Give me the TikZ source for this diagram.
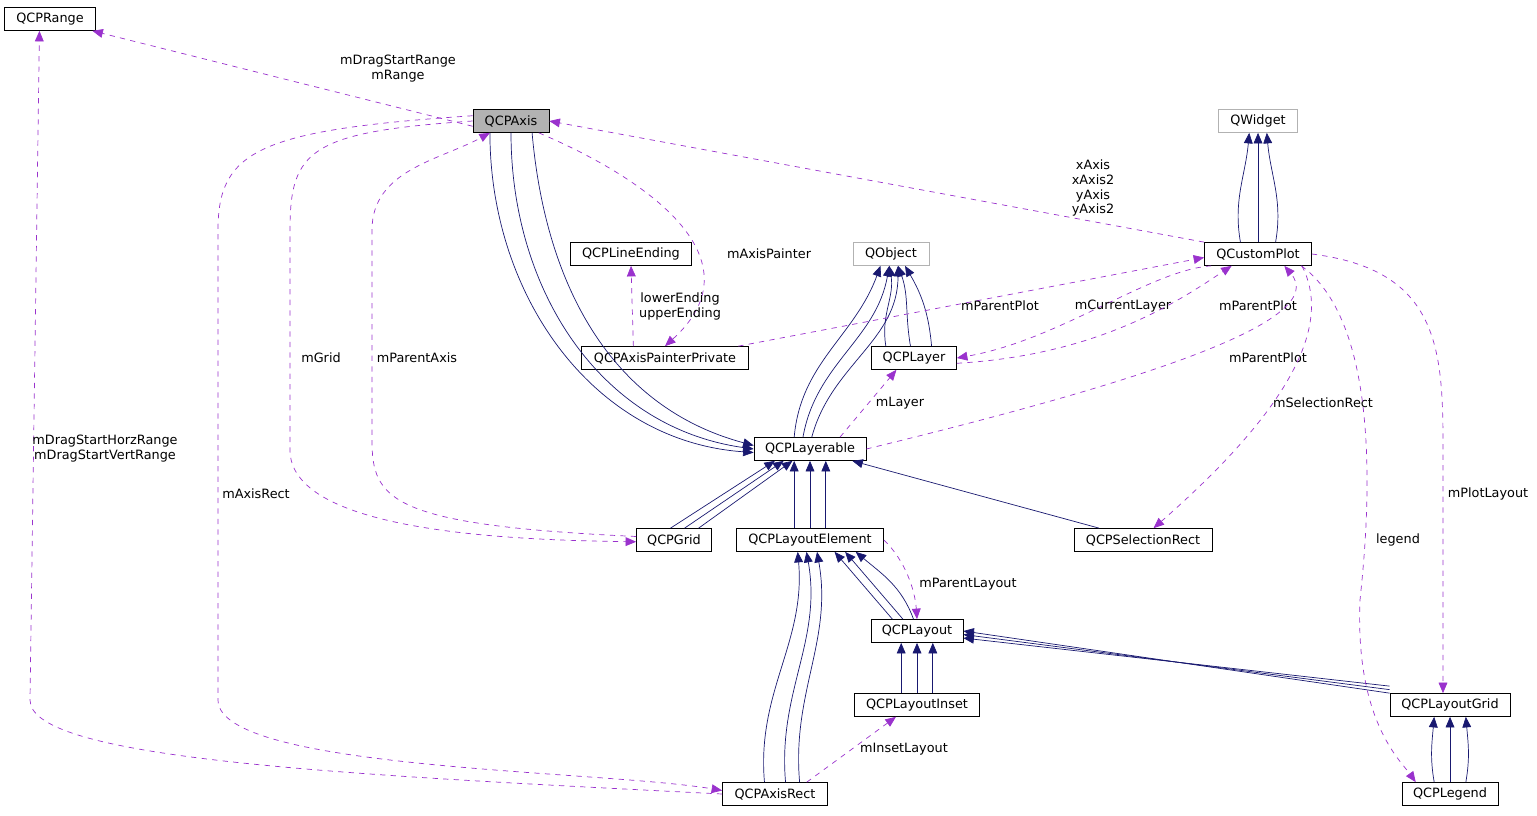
\documentclass[tikz,border=0pt]{standalone}
\usepackage{fontspec}
\setmainfont{DejaVu Sans}
\usepackage{tikz}
\usetikzlibrary{arrows.meta,positioning}
\definecolor{navy}{HTML}{191970}
\definecolor{usecol}{HTML}{9A32CD}

\begin{document}
\begin{tikzpicture}[x=0.02cm,y=-0.02cm,
	cls/.style={draw, fill=white, font=\fontsize{7.3}{8.5}\selectfont, inner xsep=4pt, inner ysep=0pt, minimum height=0.46cm},
	ext/.style={cls, draw=gray!60},
	inh/.style={draw=navy, -{Triangle[length=6pt,width=5pt]}},
	use/.style={draw=usecol, dashed, -{Triangle[length=6pt,width=5pt]}},
	lbl/.style={font=\fontsize{7.3}{8.5}\selectfont, align=center}]
	\useasboundingbox (0,0) rectangle (1537,815);

	\path (50,19) node[cls, minimum width=1.82cm] (rng) {QCPRange};
	\path (511,121) node[cls, minimum width=1.52cm, fill=gray!60] (ax) {QCPAxis};
	\path (1258,121) node[ext, minimum width=1.58cm] (qw) {QWidget};
	\path (631,254) node[cls, minimum width=2.42cm] (le) {QCPLineEnding};
	\path (891,254) node[ext, minimum width=1.52cm] (qo) {QObject};
	\path (1258,254) node[cls, minimum width=2.14cm] (cp) {QCustomPlot};
	\path (665,358) node[cls, minimum width=3.34cm] (app) {QCPAxisPainterPrivate};
	\path (914,358) node[cls, minimum width=1.7cm] (lyr) {QCPLayer};
	\path (810,449) node[cls, minimum width=2.24cm] (lay) {QCPLayerable};
	\path (674,540) node[cls, minimum width=1.5cm] (grid) {QCPGrid};
	\path (810,540) node[cls, minimum width=2.94cm] (lel) {QCPLayoutElement};
	\path (1143,540) node[cls, minimum width=2.76cm] (sr) {QCPSelectionRect};
	\path (917,631) node[cls, minimum width=1.84cm] (lo) {QCPLayout};
	\path (917,705) node[cls, minimum width=2.5cm] (li) {QCPLayoutInset};
	\path (1450,705) node[cls, minimum width=2.4cm] (lg) {QCPLayoutGrid};
	\path (775,794) node[cls, minimum width=2.1cm] (ar) {QCPAxisRect};
	\path (1450,794) node[cls, minimum width=1.92cm] (leg) {QCPLegend};

	% inheritance
	\draw[inh] ([xshift=-12pt]ax.south) to[out=-90,in=176] ([yshift=-2pt]lay.west);
	\draw[inh] (ax.south) to[out=-90,in=172] (lay.west);
	\draw[inh] ([xshift=12pt]ax.south) to[out=-85,in=165] ([yshift=2pt]lay.west);
	\draw[inh] ([xshift=-9pt]lay.north) to[out=85,in=-110] ([xshift=-6pt]qo.south);
	\draw[inh] ([xshift=-4pt]lay.north) to[out=80,in=-100] ([xshift=-1pt]qo.south);
	\draw[inh] ([xshift=1pt]lay.north) to[out=75,in=-90] ([xshift=4pt]qo.south);
	\draw[inh] ([xshift=-16pt]lyr.north) to[out=100,in=-80] ([xshift=-1pt]qo.south);
	\draw[inh] ([xshift=-2pt]lyr.north) to[out=100,in=-70] ([xshift=4pt]qo.south);
	\draw[inh] ([xshift=10pt]lyr.north) to[out=95,in=-60] ([xshift=8pt]qo.south);
	\draw[inh] ([xshift=-10pt]cp.north) to[out=100,in=-95] ([xshift=-5pt]qw.south);
	\draw[inh] (cp.north) -- (qw.south);
	\draw[inh] ([xshift=10pt]cp.north) to[out=80,in=-85] ([xshift=5pt]qw.south);
	\draw[inh] ([xshift=-2pt]grid.north) -- ([xshift=-20pt]lay.south);
	\draw[inh] ([xshift=6pt]grid.north) -- ([xshift=-15pt]lay.south);
	\draw[inh] ([xshift=14pt]grid.north) -- ([xshift=-10pt]lay.south);
	\draw[inh] ([xshift=-9pt]lel.north) -- ([xshift=-9pt]lay.south);
	\draw[inh] (lel.north) -- (lay.south);
	\draw[inh] ([xshift=9pt]lel.north) -- ([xshift=9pt]lay.south);
	\draw[inh] ([xshift=-25pt]sr.north) -- ([xshift=-8pt]lay.south east);
	\draw[inh] ([xshift=-14pt]lo.north) -- ([xshift=14pt]lel.south);
	\draw[inh] ([xshift=-8pt]lo.north) -- ([xshift=20pt]lel.south);
	\draw[inh] ([xshift=-2pt]lo.north) to[out=110,in=-40] ([xshift=26pt]lel.south);
	\draw[inh] ([xshift=-6pt]ar.north) to[out=95,in=-85] ([xshift=-7pt]lel.south);
	\draw[inh] ([xshift=6pt]ar.north) to[out=95,in=-80] ([xshift=-2pt]lel.south);
	\draw[inh] ([xshift=14pt]ar.north) to[out=95,in=-80] ([xshift=4pt]lel.south);
	\draw[inh] ([xshift=-9pt]li.north) -- ([xshift=-9pt]lo.south);
	\draw[inh] (li.north) -- (lo.south);
	\draw[inh] ([xshift=9pt]li.north) -- ([xshift=9pt]lo.south);
	\draw[inh] ([yshift=4pt]lg.north west) -- ([yshift=-4pt]lo.east);
	\draw[inh] ([yshift=2pt]lg.north west) -- ([yshift=-2pt]lo.east);
	\draw[inh] (lg.north west) -- (lo.east);
	\draw[inh] ([xshift=-9pt]leg.north) to[out=100,in=-95] ([xshift=-9pt]lg.south);
	\draw[inh] (leg.north) -- (lg.south);
	\draw[inh] ([xshift=9pt]leg.north) to[out=80,in=-85] ([xshift=9pt]lg.south);

	% usage
	\draw[use] ([yshift=-3pt]ax.west) -- ([xshift=-2pt]rng.south east);
	\node[lbl] at (398,69) {mDragStartRange\\mRange};
	\draw[use] (ar.west) .. controls (350,775) and (30,760) .. (30,700) -- ([xshift=-6pt]rng.south);
	\node[lbl] at (105,449) {mDragStartHorzRange\\mDragStartVertRange};
	\draw[use] (cp.north west) -- (ax.east);
	\node[lbl] at (1093,188) {xAxis\\xAxis2\\yAxis\\yAxis2};
	\draw[use] ([xshift=-6pt]ax.south east) .. controls (650,180) and (760,260) .. (app.north);
	\node[lbl] at (769,254) {mAxisPainter};
	\draw[use] ([xshift=-18pt]app.north) -- (le.south);
	\node[lbl] at (680,306) {lowerEnding\\upperEnding};
	\draw[use] (ax.west) .. controls (310,132) and (290,150) .. (290,230)
		-- (290,450) .. controls (290,530) and (500,540) .. ([yshift=-1pt]grid.west);
	\node[lbl] at (321,358) {mGrid};
	\draw[use] ([yshift=2pt]grid.west) .. controls (390,525) and (372,500) .. (372,440)
		-- (372,230) .. controls (372,170) and (440,160) .. ([xshift=-12pt]ax.south);
	\node[lbl] at (417,358) {mParentAxis};
	\draw[use] ([yshift=3pt]ax.west) .. controls (260,130) and (218,150) .. (218,230)
		-- (218,700) .. controls (218,770) and (600,770) .. ([yshift=2pt]ar.west);
	\node[lbl] at (256,494) {mAxisRect};
	\draw[use] ([xshift=-6pt]app.north east) -- ([yshift=-2pt]cp.west);
	\node[lbl] at (1000,306) {mParentPlot};
	\draw[use] ([xshift=4pt]cp.south west) .. controls (1150,270) and (1060,340) .. (lyr.east);
	\node[lbl] at (1123,306) {mCurrentLayer};
	\draw[use] ([yshift=-3pt]lyr.east) .. controls (1100,355) and (1180,300) .. ([xshift=-15pt]cp.south);
	\node[lbl] at (1258,306) {mParentPlot};
	\draw[use] (lay.east) .. controls (1150,380) and (1330,320) .. ([xshift=15pt]cp.south);
	\node[lbl] at (1268,358) {mParentPlot};
	\draw[use] ([xshift=-15pt]lay.north east) -- ([xshift=-10pt]lyr.south);
	\node[lbl] at (900,403) {mLayer};
	\draw[use] ([xshift=25pt]cp.south) .. controls (1330,320) and (1300,400) .. ([xshift=6pt]sr.north);
	\node[lbl] at (1323,403) {mSelectionRect};
	\draw[use] ([xshift=-6pt]cp.south east) .. controls (1390,330) and (1365,550) .. (1360,600)
		.. controls (1355,720) and (1400,760) .. ([xshift=8pt]leg.north west);
	\node[lbl] at (1398,540) {legend};
	\draw[use] (cp.east) .. controls (1440,270) and (1443,350) .. (1443,450) -- ([xshift=-4pt]lg.north);
	\node[lbl] at (1488,494) {mPlotLayout};
	\draw[use] (lel.east) .. controls (905,560) and (915,590) .. (lo.north);
	\node[lbl] at (968,584) {mParentLayout};
	\draw[use] ([xshift=-12pt]ar.north east) -- ([xshift=-12pt]li.south);
	\node[lbl] at (904,749) {mInsetLayout};
\end{tikzpicture}
\end{document}
